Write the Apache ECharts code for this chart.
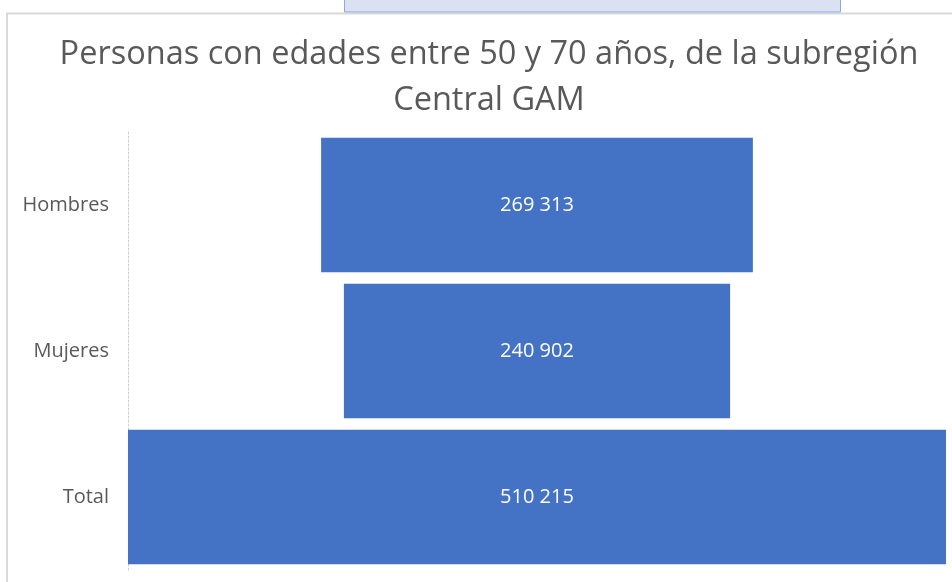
<!DOCTYPE html>
<html>
<head>
<meta charset="utf-8">
<script src="https://cdn.jsdelivr.net/npm/echarts@6/dist/echarts.min.js"></script>
<style>
  html, body { margin: 0; padding: 0; background: #fff; }
  #main { width: 952px; height: 582px; }
</style>
</head>
<body>
<div id="main"></div>
<script>
// categorias del embudo (de arriba a abajo)
var categorias = ['Hombres', 'Mujeres', 'Total'];
var valores = [269313, 240902, 510215];

var maximo = Math.max.apply(null, valores);
// desplazamiento invisible para centrar cada barra
var relleno = valores.map(function (v) { return (maximo - v) / 2; });

function formato(v) {
  return String(v).replace(/\B(?=(\d{3})+(?!\d))/g, ' ');
}

var chart = echarts.init(document.getElementById('main'));
var font = 'Open Sans';

var option = {
  animation: false,
  title: {
    text: 'Personas con edades entre 50 y 70 años, de la subregión\nCentral GAM',
    left: 484,
    top: 27,
    textAlign: 'center',
    textStyle: {
      fontFamily: font,
      fontSize: 32.5,
      fontWeight: 'normal',
      color: '#595959',
      lineHeight: 46
    }
  },
  grid: {
    left: 128,
    right: 6,
    top: 132,
    bottom: 12
  },
  xAxis: {
    type: 'value',
    min: 0,
    max: maximo,
    show: false
  },
  yAxis: {
    type: 'category',
    data: categorias,
    inverse: true,
    axisLine: {
      show: true,
      lineStyle: { color: '#cfcfcf', type: [2, 2], width: 1 }
    },
    axisTick: { show: false },
    axisLabel: {
      margin: 19,
      fontFamily: font,
      fontSize: 20,
      color: '#595959'
    }
  },
  series: [
    {
      type: 'bar',
      stack: 'embudo',
      data: relleno,
      itemStyle: { color: 'transparent' },
      silent: true,
      barCategoryGap: '8%'
    },
    {
      type: 'bar',
      stack: 'embudo',
      data: valores,
      barCategoryGap: '8%',
      itemStyle: { color: '#4472c4' },
      label: {
        show: true,
        position: 'inside',
        color: '#ffffff',
        fontFamily: font,
        fontSize: 20,
        formatter: function (p) { return formato(p.value); }
      }
    }
  ],
  graphic: [
    // borde del area del grafico
    { type: 'line', shape: { x1: 6, y1: 13.5, x2: 952, y2: 13.5 }, style: { stroke: '#d9d9d9', lineWidth: 2 } },
    { type: 'line', shape: { x1: 7, y1: 13, x2: 7, y2: 582 }, style: { stroke: '#d9d9d9', lineWidth: 2 } },
    // seleccion azul arriba
    { type: 'rect', shape: { x: 344.5, y: -1, width: 496, height: 13 }, style: { fill: '#dae1f3', stroke: '#8eaadb', lineWidth: 1 } }
  ]
};

chart.setOption(option);
</script>
</body>
</html>
